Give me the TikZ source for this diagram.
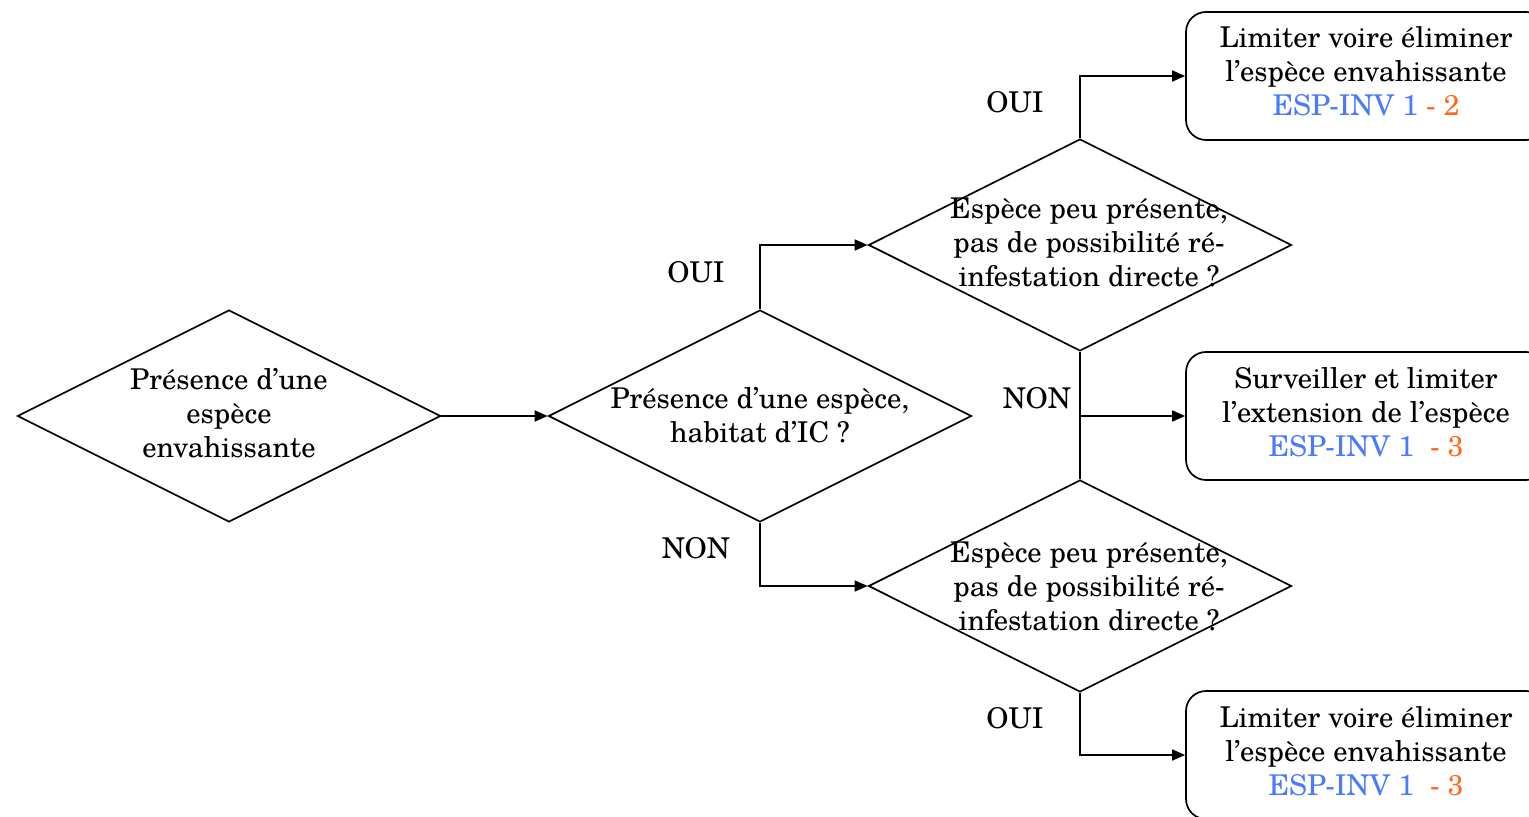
\documentclass[tikz,border=0pt]{standalone}
\usepackage{fontspec}
\setmainfont{TeX Gyre Schola}
\usetikzlibrary{shapes.geometric,arrows.meta}
\definecolor{espblue}{RGB}{74,123,255}
\definecolor{esporange}{RGB}{255,106,26}
\begin{document}
\begin{tikzpicture}[x=0.5pt,y=-0.5pt,
  dia/.style={draw, diamond, minimum width=211.5pt, minimum height=106pt, inner sep=0pt, line width=0.85pt},
  txt/.style={align=center, font=\fontsize{14.3}{17}\selectfont, inner sep=0pt},
  resbox/.style={draw, rounded corners=10pt, minimum width=180pt, minimum height=64pt, line width=0.85pt, inner sep=0pt},
  arr/.style={-{Triangle[length=6.5pt,width=5.5pt]}, line width=0.85pt},
  ln/.style={line width=0.85pt}]
\useasboundingbox (0,0) rectangle (1529,817);
\clip (0,0) rectangle (1529,817);
% diamonds
\node[dia] (d1) at (229,416) {};
\node[dia] (d2) at (760,416) {};
\node[dia] (d3) at (1080,245) {};
\node[dia] (d4) at (1080,586) {};
\node[txt] (t1) at (229,413) {Présence d’une\\espèce\\envahissante};
\node[txt] (t2) at (760,415) {Présence d’une espèce,\\habitat d’IC ?};
\node[txt] (t3) at (1089,242) {Espèce peu présente,\\pas de possibilité ré-\\infestation directe ?};
\node[txt] (t4) at (1089,586) {Espèce peu présente,\\pas de possibilité ré-\\infestation directe ?};
% result boxes
\node[resbox] (b1) at (1366,76) {};
\node[resbox] (b2) at (1366,416) {};
\node[resbox] (b3) at (1366,755) {};
\node[txt] (bt1) at (1366,71) {Limiter voire éliminer\\l’espèce envahissante\\\textcolor{espblue}{ESP-INV 1} \textcolor{esporange}{- 2}};
\node[txt] (bt2) at (1366,412) {Surveiller et limiter\\l’extension de l’espèce\\\textcolor{espblue}{ESP-INV 1}\ \ \textcolor{esporange}{- 3}};
\node[txt] (bt3) at (1366,751) {Limiter voire éliminer\\l’espèce envahissante\\\textcolor{espblue}{ESP-INV 1}\ \ \textcolor{esporange}{- 3}};
% labels
\node[txt] (l1) at (696,272) {OUI};
\node[txt] (l2) at (696,548) {NON};
\node[txt] (l3) at (1015,102) {OUI};
\node[txt] (l4) at (1037,398) {NON};
\node[txt] (l5) at (1015,718) {OUI};
% connectors
\coordinate (mid) at (1080,416);
\draw[arr] (d1.east) -- (d2.west);
\draw[arr] (d2.north) |- (d3.west);
\draw[arr] (d2.south) |- (d4.west);
\draw[arr] (d3.north) |- (b1.west);
\draw[ln] (d3.south) -- (d4.north);
\draw[arr] (mid) -- (b2.west);
\draw[arr] (d4.south) |- (b3.west);
\end{tikzpicture}
\end{document}
